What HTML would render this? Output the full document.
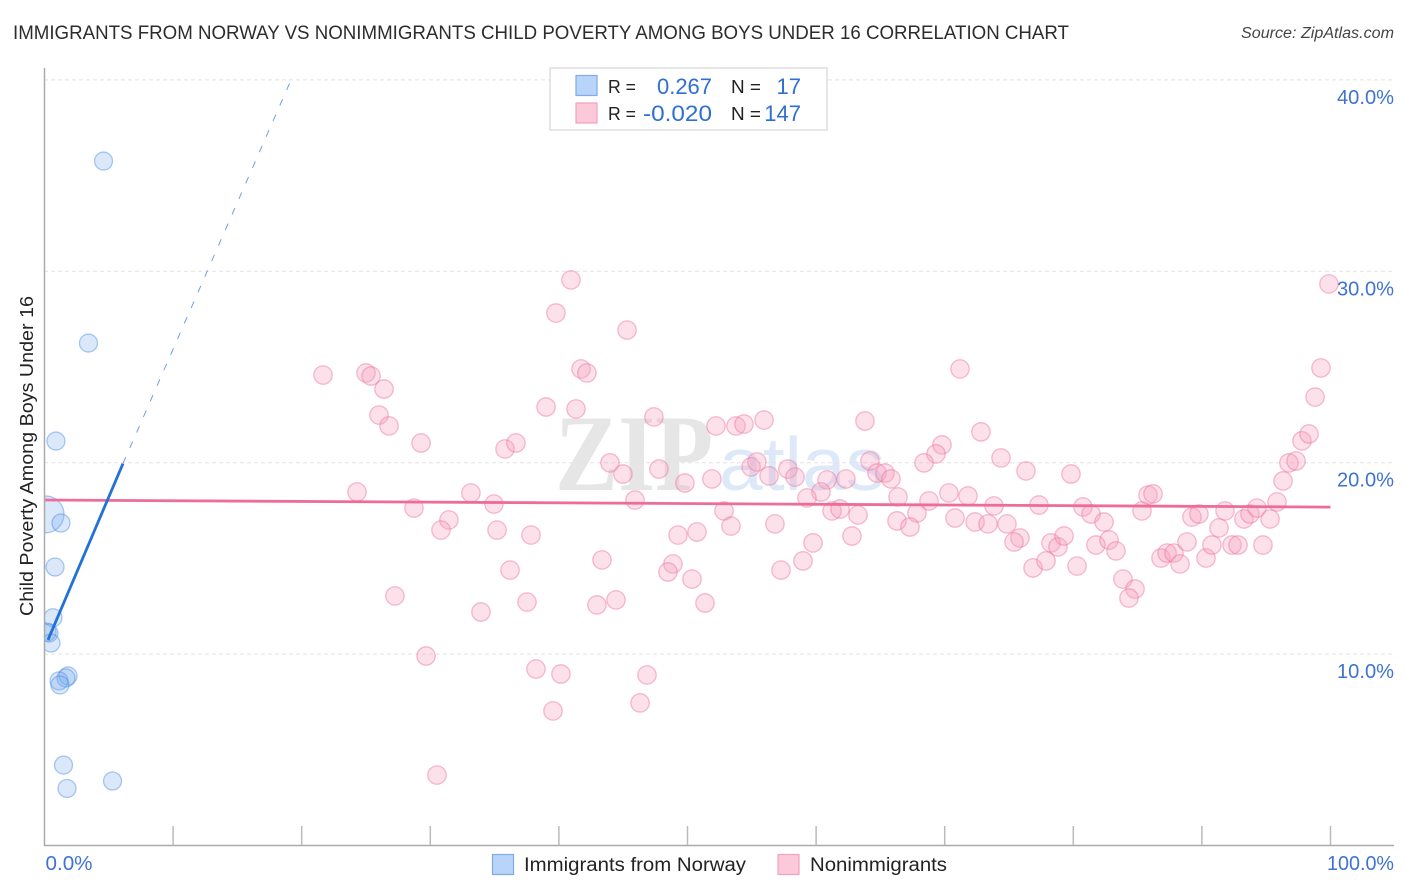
<!DOCTYPE html>
<html lang="en">
<head>
<meta charset="utf-8">
<title>Immigrants from Norway vs Nonimmigrants Child Poverty Correlation Chart</title>
<style>
html,body{margin:0;padding:0;background:#fff;width:1406px;height:892px;overflow:hidden}
svg{display:block;font-family:"Liberation Sans",sans-serif}
</style>
</head>
<body>
<svg id="chart" xmlns="http://www.w3.org/2000/svg" width="1406" height="892" viewBox="0 0 1406 892">
  <defs>
    <clipPath id="plot-clip"><rect x="45" y="60" width="1349" height="785"/></clipPath>
  </defs>
  <rect x="0" y="0" width="1406" height="892" fill="#fff"/>

  <text x="13" y="39" font-size="19" fill="#2c2c2c" textLength="1056" lengthAdjust="spacingAndGlyphs">IMMIGRANTS FROM NORWAY VS NONIMMIGRANTS CHILD POVERTY AMONG BOYS UNDER 16 CORRELATION CHART</text>
  <text x="1241" y="38" font-size="15.5" font-style="italic" fill="#444" textLength="153" lengthAdjust="spacingAndGlyphs">Source: ZipAtlas.com</text>

  <g>
    <text x="555" y="490" font-family="'Liberation Serif',serif" font-weight="bold" font-size="109" fill="#e6e6e6" textLength="158" lengthAdjust="spacingAndGlyphs">ZIP</text>
    <text x="719" y="490" font-size="75" fill="#dde9f9" textLength="166" lengthAdjust="spacingAndGlyphs">atlas</text>
  </g>

  <g id="grid"></g>
  <g id="blue-points" clip-path="url(#plot-clip)"></g>
  <g id="pink-points" clip-path="url(#plot-clip)"></g>
  <g id="trends" clip-path="url(#plot-clip)"></g>

  <line x1="44.5" y1="68" x2="44.5" y2="846" stroke="#aaa" stroke-width="1.5"/>
  <line x1="44" y1="845.5" x2="1394" y2="845.5" stroke="#aaa" stroke-width="1.5"/>
  <g id="x-axis"></g>
  <g id="y-axis"></g>

  <text transform="translate(33,616) rotate(-90)" font-size="18.5" fill="#222" textLength="320" lengthAdjust="spacingAndGlyphs">Child Poverty Among Boys Under 16</text>

  <g>
    <rect x="550" y="68" width="277" height="62" fill="#fff" stroke="#ddd" stroke-width="1.5"/>
    <rect x="576" y="75.5" width="21" height="20" fill="#b8d4f8" stroke="#7fabe6" stroke-width="1.2"/>
    <rect x="576" y="103" width="21" height="20" fill="#fcc8da" stroke="#f0a3bb" stroke-width="1.2"/>
    <text x="608" y="93" font-size="18.5" fill="#222" textLength="28" lengthAdjust="spacingAndGlyphs">R =</text>
    <text x="608" y="120" font-size="18.5" fill="#222" textLength="28" lengthAdjust="spacingAndGlyphs">R =</text>
    <text x="657" y="94" font-size="22" fill="#2f6fd0" textLength="55" lengthAdjust="spacingAndGlyphs">0.267</text>
    <text x="643" y="121" font-size="22" fill="#2f6fd0" textLength="69" lengthAdjust="spacingAndGlyphs">-0.020</text>
    <text x="731" y="93" font-size="18.5" fill="#222" textLength="30" lengthAdjust="spacingAndGlyphs">N =</text>
    <text x="731" y="120" font-size="18.5" fill="#222" textLength="30" lengthAdjust="spacingAndGlyphs">N =</text>
    <text x="801" y="94" font-size="22" fill="#2f6fd0" text-anchor="end">17</text>
    <text x="801" y="121" font-size="22" fill="#2f6fd0" text-anchor="end">147</text>
  </g>

  <g>
    <rect x="492.5" y="854.5" width="21" height="20" fill="#b8d4f8" stroke="#7fabe6" stroke-width="1.2"/>
    <text x="524" y="871" font-size="19" fill="#222" textLength="222" lengthAdjust="spacingAndGlyphs">Immigrants from Norway</text>
    <rect x="778" y="854.5" width="21" height="20" fill="#fcc8da" stroke="#f0a3bb" stroke-width="1.2"/>
    <text x="810" y="871" font-size="19" fill="#222" textLength="137" lengthAdjust="spacingAndGlyphs">Nonimmigrants</text>
  </g>
</svg>
<script>
var yTicks = [10, 20, 30, 40];
var yTickLabels = ["10.0%", "20.0%", "30.0%", "40.0%"];
var xTicks = [10, 20, 30, 40, 50, 60, 70, 80, 90, 100];
var xEndTicks = [0, 100];
var xEndLabels = ["0.0%", "100.0%"];

var blueX = [4.59, 3.42, 0.89, 0.08, 1.28, 0.82, 0.66, 0.35, 0.2, 0.5, 1.83, 1.67, 1.13, 1.2, 1.48, 1.75, 5.29];
var blueY = [35.76, 26.25, 21.13, 17.3, 16.85, 14.55, 11.9, 11.1, 11.15, 10.58, 8.86, 8.75, 8.6, 8.39, 4.2, 2.98, 3.37];
var blueWeights = [1, 1, 1, 4.2, 1, 1, 1, 1, 1, 1, 1, 1, 1, 1, 1, 1, 1];

var pinkX = [21.66, 25.0, 25.39, 26.4, 26.01, 26.79, 29.28, 24.3, 28.73, 31.45, 30.83, 27.25, 29.67, 30.52, 33.16, 34.95, 35.19, 35.81, 36.66, 37.83, 36.2, 33.94, 37.52, 38.22, 39.54, 40.16, 40.94, 39.77, 39.0, 41.33, 41.72, 42.18, 45.3, 47.39, 43.97, 44.98, 45.92, 43.35, 42.96, 44.44, 46.85, 46.31, 47.78, 49.8, 49.26, 50.74, 48.87, 48.48, 50.35, 51.36, 51.9, 52.84, 53.38, 54.94, 55.4, 56.34, 57.81, 58.36, 60.85, 60.38, 59.29, 62.32, 64.19, 64.74, 65.36, 65.82, 61.24, 61.86, 63.26, 56.8, 66.29, 62.79, 59.76, 66.37, 57.27, 58.98, 63.8, 52.22, 53.77, 54.39, 55.95, 71.19, 72.82, 69.79, 69.32, 68.39, 74.38, 76.32, 79.82, 68.78, 67.84, 67.3, 70.8, 70.33, 71.81, 72.36, 73.37, 73.83, 74.84, 75.85, 75.39, 77.33, 76.87, 77.88, 78.27, 78.81, 79.28, 80.75, 81.38, 82.39, 81.76, 82.78, 83.32, 80.29, 83.86, 84.8, 84.33, 85.34, 85.81, 86.2, 86.82, 87.29, 87.83, 88.3, 88.84, 89.23, 89.77, 90.32, 90.78, 91.33, 91.8, 92.34, 92.81, 93.27, 93.74, 94.28, 94.75, 95.3, 95.84, 96.31, 96.77, 97.32, 97.78, 98.33, 98.8, 99.26, 99.88];
var pinkY = [24.58, 24.69, 24.53, 23.85, 22.49, 21.92, 21.03, 18.47, 17.63, 17.01, 16.48, 13.04, 9.9, 3.68, 18.42, 17.84, 16.48, 20.72, 21.03, 16.22, 14.39, 12.2, 12.72, 9.22, 7.03, 8.96, 29.55, 27.82, 22.91, 22.81, 24.9, 24.69, 26.93, 22.39, 19.99, 19.41, 18.05, 14.92, 12.57, 12.83, 8.91, 7.45, 19.67, 18.94, 16.22, 16.38, 14.71, 14.29, 13.92, 12.67, 19.15, 17.48, 16.69, 19.78, 20.04, 19.31, 19.67, 19.25, 19.1, 18.47, 18.16, 19.15, 20.09, 19.46, 19.46, 19.15, 17.48, 17.58, 17.27, 16.8, 16.96, 16.17, 15.81, 18.21, 14.39, 14.87, 22.18, 21.92, 21.92, 22.02, 22.23, 24.9, 21.61, 20.93, 20.46, 19.99, 20.25, 19.57, 19.41, 18.0, 17.37, 16.64, 17.11, 18.42, 18.26, 16.9, 16.8, 17.74, 16.8, 16.07, 15.86, 17.79, 14.5, 14.87, 15.81, 15.6, 16.17, 17.69, 17.32, 16.9, 15.7, 15.96, 15.39, 14.6, 13.92, 13.4, 12.93, 17.48, 18.31, 18.37, 15.02, 15.28, 15.28, 14.71, 15.86, 17.16, 17.32, 15.02, 15.7, 16.59, 17.48, 15.7, 15.7, 17.06, 17.32, 17.63, 15.7, 17.06, 17.95, 19.05, 19.99, 20.09, 21.14, 21.5, 23.43, 24.95, 29.34];

var blueTrendX = [0.27, 6.1];
var blueTrendY = [10.74, 19.95];
var blueDashX = [6.1, 19.17];
var blueDashY = [19.95, 40];
var pinkTrendX = [0, 100];
var pinkTrendY = [18.05, 17.68];

var SVG_NS = 'http://www.w3.org/2000/svg';
function xScale(v) { return 44.5 + v * 12.86; }
function yScale(v) { return 845.5 - v * 19.14; }
function radius(base, weight) { return base * Math.sqrt(weight); }
function make(tag, parent, attrs, text) {
  var el = document.createElementNS(SVG_NS, tag);
  for (var k in attrs) { el.setAttribute(k, attrs[k]); }
  if (text !== undefined) { el.textContent = text; }
  parent.appendChild(el);
  return el;
}

var grid = document.getElementById('grid');
var yAxis = document.getElementById('y-axis');
yTicks.forEach(function (t, i) {
  var line = make('line', grid, { x1: 44, x2: 1394, y1: yScale(t), y2: yScale(t), stroke: '#e2e2e2', 'stroke-width': 1, 'stroke-dasharray': '4 3' });
  
  
  var label = make('text', yAxis, { x: 1337, y: yScale(t) + 24, 'font-size': 20, fill: '#3f73d3', textLength: 57, lengthAdjust: 'spacingAndGlyphs' }, yTickLabels[i]);
  
  
});

var xAxis = document.getElementById('x-axis');
xTicks.forEach(function (t) {
  var tick = make('line', xAxis, { x1: xScale(t), x2: xScale(t), y1: 826, y2: 845, stroke: '#bbb', 'stroke-width': 1.5 });
  
  
});
xEndTicks.forEach(function (t, i) {
  var atStart = i === 0;
  var label = make('text', xAxis, { x: atStart ? xScale(t) + 1 : 1327, y: 870, 'font-size': 20, fill: '#3f73d3', textLength: atStart ? 47 : 67, lengthAdjust: 'spacingAndGlyphs' }, xEndLabels[i]);
  
  
});

var blueGroup = document.getElementById('blue-points');
blueX.forEach(function (v, i) {
  var c = make('circle', blueGroup, { cx: xScale(v), cy: yScale(blueY[i]), r: radius(9, blueWeights[i]), fill: 'rgba(120,170,235,0.27)', stroke: 'rgba(70,140,225,0.45)', 'stroke-width': 1.3 });
  
  
});

var pinkGroup = document.getElementById('pink-points');
pinkX.forEach(function (v, i) {
  var c = make('circle', pinkGroup, { cx: xScale(v), cy: yScale(pinkY[i]), r: 9.2, fill: 'rgba(247,160,190,0.32)', stroke: 'rgba(236,110,150,0.45)', 'stroke-width': 1.3 });
  
  
});

var trends = document.getElementById('trends');
var pinkLine = make('line', trends, { x1: xScale(pinkTrendX[0]), y1: yScale(pinkTrendY[0]), x2: xScale(pinkTrendX[1]), y2: yScale(pinkTrendY[1]), stroke: '#ee6c99', 'stroke-width': 2.8 });


var blueLine = make('line', trends, { x1: xScale(blueTrendX[0]), y1: yScale(blueTrendY[0]), x2: xScale(blueTrendX[1]), y2: yScale(blueTrendY[1]), stroke: '#2271d9', 'stroke-width': 2.8 });


var blueDash = make('line', trends, { x1: xScale(blueDashX[0]), y1: yScale(blueDashY[0]), x2: xScale(blueDashX[1]), y2: yScale(blueDashY[1]), stroke: '#6f9fe4', 'stroke-width': 1, 'stroke-dasharray': '7 10' });


</script>
</body>
</html>
